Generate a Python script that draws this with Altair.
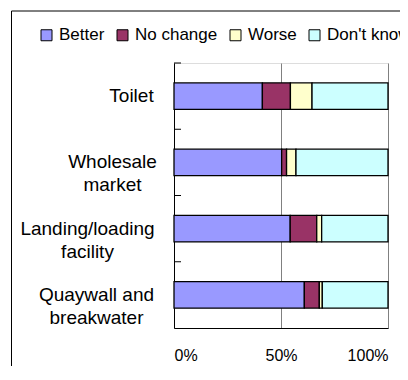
import altair as alt
import pandas as pd

categories = ["Toilet", "Wholesale\nmarket", "Landing/loading\nfacility", "Quaywall and\nbreakwater"]
series = ["Better", "No change", "Worse", "Don't know"]
colors = ["#9999FF", "#993366", "#FFFFCC", "#CCFFFF"]

better = [41.3, 50.3, 54.3, 60.9]
no_change = [13.1, 2.3, 12.4, 7.0]
worse = [10.1, 4.4, 2.3, 1.4]
dont_know = [35.5, 43.0, 31.0, 30.7]

values = [better, no_change, worse, dont_know]
rows = []
for si, s in enumerate(series):
    for ci, c in enumerate(categories):
        rows.append({"cat": c, "series": s, "order": si, "value": values[si][ci]})
df = pd.DataFrame(rows)

FONT = "Liberation Sans"

# centre each multi-line label block (lines centred on each other, block ending near the axis)
label_pad = {
    "condition": [
        {"test": "indexof(datum.value, 'Toilet') >= 0", "value": 43},
        {"test": "indexof(datum.value, 'Wholesale') >= 0", "value": 62},
        {"test": "indexof(datum.value, 'Landing') >= 0", "value": 87},
    ],
    "value": 78,
}

y_axis = alt.Axis(
    title=None,
    labelExpr="split(datum.label, '\\n')",
    labelFontSize=19,
    labelLineHeight=23,
    labelAlign="center",
    labelBaseline="middle",
    labelPadding=label_pad,
    labelColor="black",
    labelFont=FONT,
    labelLimit=0,
    ticks=False,
    domainColor="black",
    domainWidth=1,
)
y_scale = alt.Scale(paddingInner=0.6, paddingOuter=0.3)

bars = alt.Chart(df).mark_bar(stroke="black", strokeWidth=1.3).encode(
    y=alt.Y("cat:N", sort=categories, scale=y_scale, axis=y_axis),
    x=alt.X(
        "value:Q",
        stack="normalize",
        scale=alt.Scale(domain=[0, 1], nice=False),
        axis=alt.Axis(
            title=None,
            format="%",
            values=[0, 0.5, 1],
            grid=True,
            gridColor="#808080",
            gridWidth=1,
            ticks=False,
            labelPadding=19,
            labelFontSize=16,
            labelFont=FONT,
            labelColor="black",
            domainColor="black",
            domainWidth=1,
        ),
    ),
    color=alt.Color(
        "series:N",
        sort=series,
        scale=alt.Scale(domain=series, range=colors),
        legend=alt.Legend(
            title=None,
            orient="none",
            direction="horizontal",
            legendX=-136,
            legendY=-36.5,
            padding=0,
            symbolType="square",
            symbolSize=121,
            symbolStrokeColor="black",
            symbolStrokeWidth=1,
            symbolOpacity=1,
            labelFontSize=17,
            labelFont=FONT,
            labelColor="black",
            labelOffset=4,
            columnPadding=9,
            labelLimit=0,
        ),
    ),
    order=alt.Order("order:Q"),
)

ticks = alt.Chart(pd.DataFrame({"cat": categories})).mark_rule(
    color="black", strokeWidth=1, yOffset=-19.875
).encode(
    y=alt.Y("cat:N", sort=categories, scale=y_scale, axis=y_axis, bandPosition=0),
    x=alt.value(0),
    x2=alt.value(7),
)

frame = alt.Chart(pd.DataFrame({"a": [0]})).mark_rect(
    fillOpacity=0, stroke="black", strokeWidth=1
).encode(
    x=alt.value(-162.5),
    x2=alt.value(400),
    y=alt.value(-52),
    y2=alt.value(400),
)

chart = alt.layer(frame, bars, ticks).properties(
    width=214,
    height=265,
    autosize=alt.AutoSizeParams(type="none"),
    padding={"left": 166, "top": 55, "right": 12, "bottom": 38},
).configure_view(
    stroke="#808080", strokeWidth=1
).configure(background="white")

chart.save("out.html", embed_options={"renderer": "svg", "actions": False})
